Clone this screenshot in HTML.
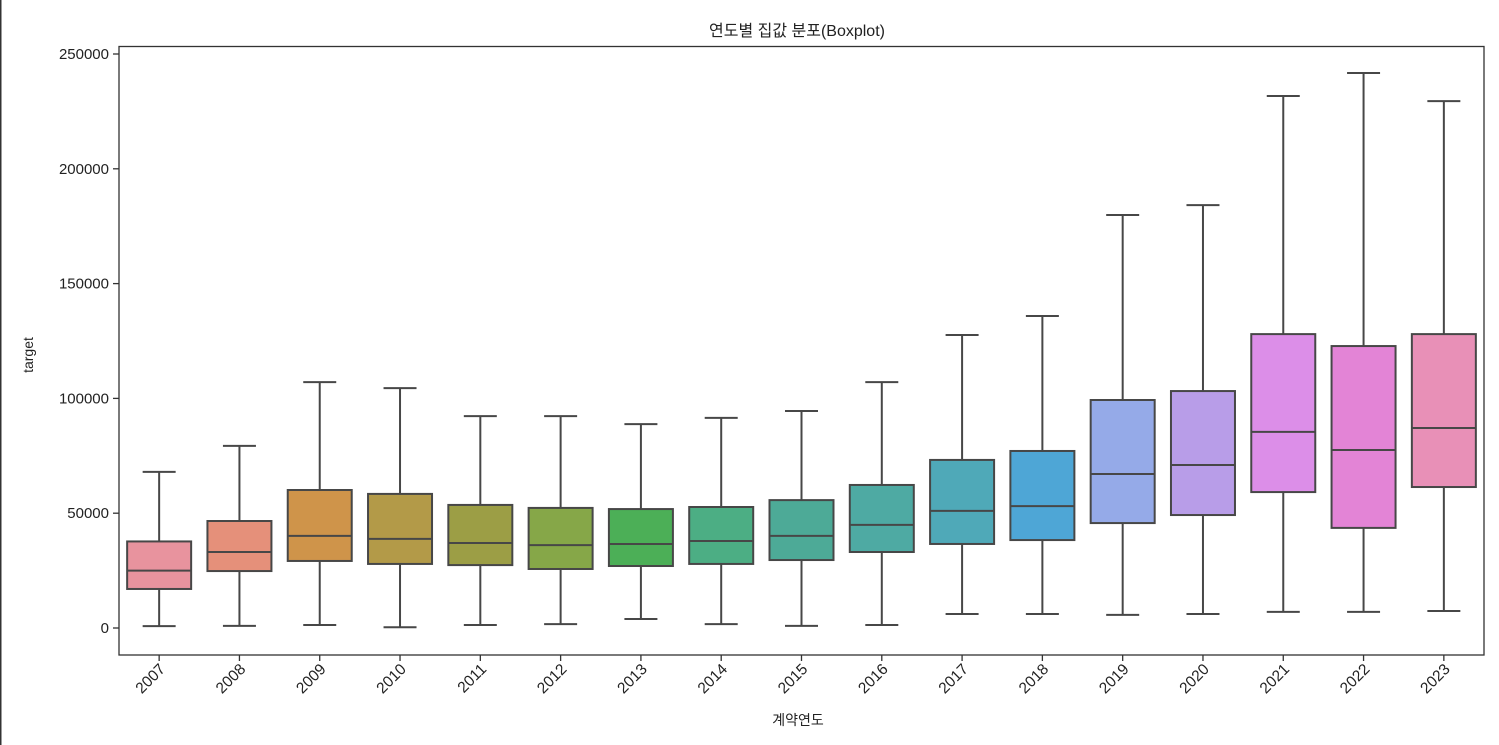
<!DOCTYPE html>
<html><head><meta charset="utf-8"><style>
body{margin:0;background:#fff;}
svg{display:block;font-family:"Liberation Sans","Noto Sans CJK KR",sans-serif;}
</style></head><body>
<svg id="c" width="1499" height="745">
<rect x="0" y="0" width="1.5" height="745" fill="#333"/>
<text x="797" y="36" font-size="16" text-anchor="middle" fill="#222">연도별 집값 분포(Boxplot)</text>
<text transform="translate(33,355) rotate(-90)" font-size="14" text-anchor="middle" fill="#222">target</text>
<text x="798" y="725" font-size="14" text-anchor="middle" fill="#222">계약연도</text>
<g id="marks"></g>
<rect x="119" y="46.5" width="1365" height="608.5" fill="none" stroke="#333" stroke-width="1.3"/>
</svg>
<script>
const categories=["2007","2008","2009","2010","2011","2012","2013","2014","2015","2016","2017","2018","2019","2020","2021","2022","2023"];
const whiskerLow=[800,900,1300,300,1300,1700,3900,1700,900,1300,6100,6100,5700,6100,7000,7000,7400];
const q1=[17000,24800,29200,27900,27400,25700,27000,27900,29600,33100,36600,38300,45700,49200,59200,43600,61400];
const median=[25000,33100,40100,38800,37000,36100,36600,37900,40100,44900,51000,53100,67100,71000,85400,77500,87100];
const q3=[37700,46600,60100,58400,53600,52300,51800,52700,55700,62300,73200,77100,99300,103200,128000,122800,128000];
const whiskerHigh=[68000,79300,107100,104500,92300,92300,88800,91500,94500,107100,127600,135900,179900,184200,231700,241700,229500];
const yTicks=[0,50000,100000,150000,200000,250000];
const colors=["#e8939e","#e5907a","#cf944a","#b39a48","#9c9e45","#86a748","#4caf57","#4cae84","#4daa97","#4eaaa3","#4fa9b8","#4ea6d6","#95aae8","#b89de8","#dc8ee8","#e384d6","#e890b7"];
const NS="http://www.w3.org/2000/svg";
const L=119,R=1484,band=(R-L)/categories.length;
const y=v=>628-v*(574/250000);
const x=i=>L+band*(i+0.5);
const g=document.getElementById('marks');
function mk(t,a,p){const e=document.createElementNS(NS,t);for(const k in a)e.setAttribute(k,a[k]);(p||g).appendChild(e);return e;}
const S="#474747";
yTicks.forEach(v=>{
 const gg=mk('g',{});
 
 
 mk('line',{x1:113,x2:119,y1:y(v),y2:y(v),stroke:"#333","stroke-width":1.3},gg);
 const t=mk('text',{x:109,y:y(v)+5,"font-size":15,"text-anchor":"end",fill:"#222"},gg);t.textContent=v;
});
categories.forEach((c,i)=>{
 const cx=x(i),hw=32,cw=16.5;
 const gg=mk('g',{});
 
 
 mk('line',{x1:cx,x2:cx,y1:y(whiskerLow[i]),y2:y(q1[i]),stroke:S,"stroke-width":2},gg);
 mk('line',{x1:cx,x2:cx,y1:y(q3[i]),y2:y(whiskerHigh[i]),stroke:S,"stroke-width":2},gg);
 mk('line',{x1:cx-cw,x2:cx+cw,y1:y(whiskerLow[i]),y2:y(whiskerLow[i]),stroke:S,"stroke-width":2},gg);
 mk('line',{x1:cx-cw,x2:cx+cw,y1:y(whiskerHigh[i]),y2:y(whiskerHigh[i]),stroke:S,"stroke-width":2},gg);
 mk('rect',{x:cx-hw,y:y(q3[i]),width:2*hw,height:y(q1[i])-y(q3[i]),fill:colors[i],stroke:S,"stroke-width":2},gg);
 mk('line',{x1:cx-hw,x2:cx+hw,y1:y(median[i]),y2:y(median[i]),stroke:S,"stroke-width":2},gg);
 mk('line',{x1:cx,x2:cx,y1:655,y2:661,stroke:"#333","stroke-width":1.3},gg);
 const t=mk('text',{transform:`translate(${cx+7},${670}) rotate(-45)`,"font-size":15.5,"text-anchor":"end",fill:"#222"},gg);
 t.textContent=c;
 
 
});
</script>
</body></html>
